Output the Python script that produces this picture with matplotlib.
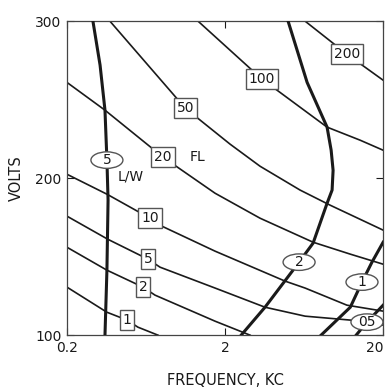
import numpy as np
import matplotlib.pyplot as plt
from matplotlib.patches import Ellipse
from matplotlib.transforms import ScaledTranslation

# brightness contours (FL), frequency in KC and volts
fl1_f = [0.2, 0.358, 0.48, 0.562, 0.753]
fl1_v = [130.6, 114.6, 109.6, 105.1, 100]
fl2_f = [0.2, 0.358, 0.605, 0.721, 1.73, 2.88]
fl2_v = [156, 141.4, 130.6, 125.5, 108.9, 100]
fl5_f = [0.2, 0.364, 0.651, 0.776, 1.73, 3.58, 6.42, 12.4, 20]
fl5_v = [175.8, 161, 148.4, 143.3, 130, 117.8, 112.1, 109.6, 106.4]
fl10_f = [0.2, 0.358, 0.67, 0.798, 1.73, 4.8, 6.42, 11.8, 20]
fl10_v = [202.5, 189.8, 174.5, 169.4, 153.5, 134.4, 130, 119.1, 115.3]
fl20_f = [0.2, 0.348, 0.81, 1.73, 3.33, 7.21, 12.4, 20]
fl20_v = [261, 243.3, 213.4, 190.4, 174.5, 159.2, 151.6, 145.2]
fl50_f = [0.374, 1.12, 2.15, 3.33, 5.97, 9.24, 20]
fl50_v = [300, 244.6, 221.7, 207.6, 192.4, 182.8, 166.9]
fl100_f = [1.35, 3.43, 4.27, 8.84, 14.3, 20]
fl100_v = [300, 263, 256, 232.5, 224.2, 217.8]
fl200_f = [6.42, 11.8, 20]
fl200_v = [300, 279, 262.4]

# L/W contours (thick)
lw5_f = [0.292, 0.324, 0.348, 0.358, 0.364, 0.358, 0.348]
lw5_v = [300, 272, 243.3, 211.5, 186, 141.4, 100]
lw2_f = [5.01, 6.61, 8.84, 9.38, 9.65, 9.51, 8.84, 7.21, 5.88, 3.58, 2.53]
lw2_v = [300, 261, 232.5, 217.8, 205, 192.4, 184, 158.6, 146.5, 117.8, 100]
lw1_f = [8.1, 12.4, 14.7, 17.0, 20]
lw1_v = [100, 117.8, 133.8, 146.5, 159.2]
lw05_f = [13.5, 15.8, 20]
lw05_v = [100, 108.3, 119.1]

# label positions
fl_labels = ['1', '2', '5', '10', '20', '50', '100', '200']
fl_lab_f = [0.48, 0.605, 0.651, 0.67, 0.81, 1.12, 3.43, 11.8]
fl_lab_v = [109.6, 130.6, 148.4, 174.5, 213.4, 244.6, 263, 279]
lw_labels = ['5', '2', '1', '05']
lw_lab_f = [0.358, 5.88, 14.7, 15.8]
lw_lab_v = [211.5, 146.5, 133.8, 108.3]

ink = '#1a1a1a'
fig = plt.figure(figsize=(3.87, 3.92), dpi=100)
ax = fig.add_axes([0.173, 0.145, 0.817, 0.801])

ax.set_xscale('log')
ax.set_xlim(0.2, 20)
ax.set_ylim(100, 300)

for f, v in [(fl1_f, fl1_v), (fl2_f, fl2_v), (fl5_f, fl5_v), (fl10_f, fl10_v),
             (fl20_f, fl20_v), (fl50_f, fl50_v), (fl100_f, fl100_v), (fl200_f, fl200_v)]:
    ax.plot(f, v, color=ink, lw=1.2, zorder=2)

for f, v in [(lw5_f, lw5_v), (lw2_f, lw2_v), (lw1_f, lw1_v), (lw05_f, lw05_v)]:
    ax.plot(f, v, color=ink, lw=2.2, zorder=3)

for t, f, v in zip(fl_labels, fl_lab_f, fl_lab_v):
    ax.text(f, v, t, ha='center', va='center', fontsize=10, color=ink, zorder=5,
            bbox=dict(boxstyle='square,pad=0.2', fc='white', ec='#555555', lw=1.0))

# ovals for the L/W labels, fixed size in inches
for t, f, v in zip(lw_labels, lw_lab_f, lw_lab_v):
    tr = fig.dpi_scale_trans + ScaledTranslation(f, v, ax.transData)
    ax.add_patch(Ellipse((0, 0), 0.32, 0.165, transform=tr, fc='white',
                         ec='#555555', lw=1.0, zorder=4, clip_on=False))
    ax.text(f, v, t, ha='center', va='center', fontsize=10, color=ink, zorder=5)

ax.text(1.33, 213.4, 'FL', ha='center', va='center', fontsize=10, color=ink)
ax.text(0.508, 201.3, 'L/W', ha='center', va='center', fontsize=10, color=ink)

ax.set_xticks([0.2, 2, 20])
ax.set_xticklabels(['0.2', '2', '20'])
ax.xaxis.set_minor_locator(plt.NullLocator())
ax.set_yticks([100, 200, 300])
ax.tick_params(direction='in', top=True, right=True, length=5, width=0.8,
               labelsize=10, colors=ink, pad=4)
ax.get_xticklabels()[-1].set_ha('right')
for s in ax.spines.values():
    s.set_linewidth(0.9)
    s.set_color('#444444')

ax.set_xlabel('FREQUENCY, KC', fontsize=10.5, color=ink, labelpad=13)
ax.set_ylabel('VOLTS', fontsize=10.5, color=ink, labelpad=8)

plt.savefig('out.png', dpi=100)
